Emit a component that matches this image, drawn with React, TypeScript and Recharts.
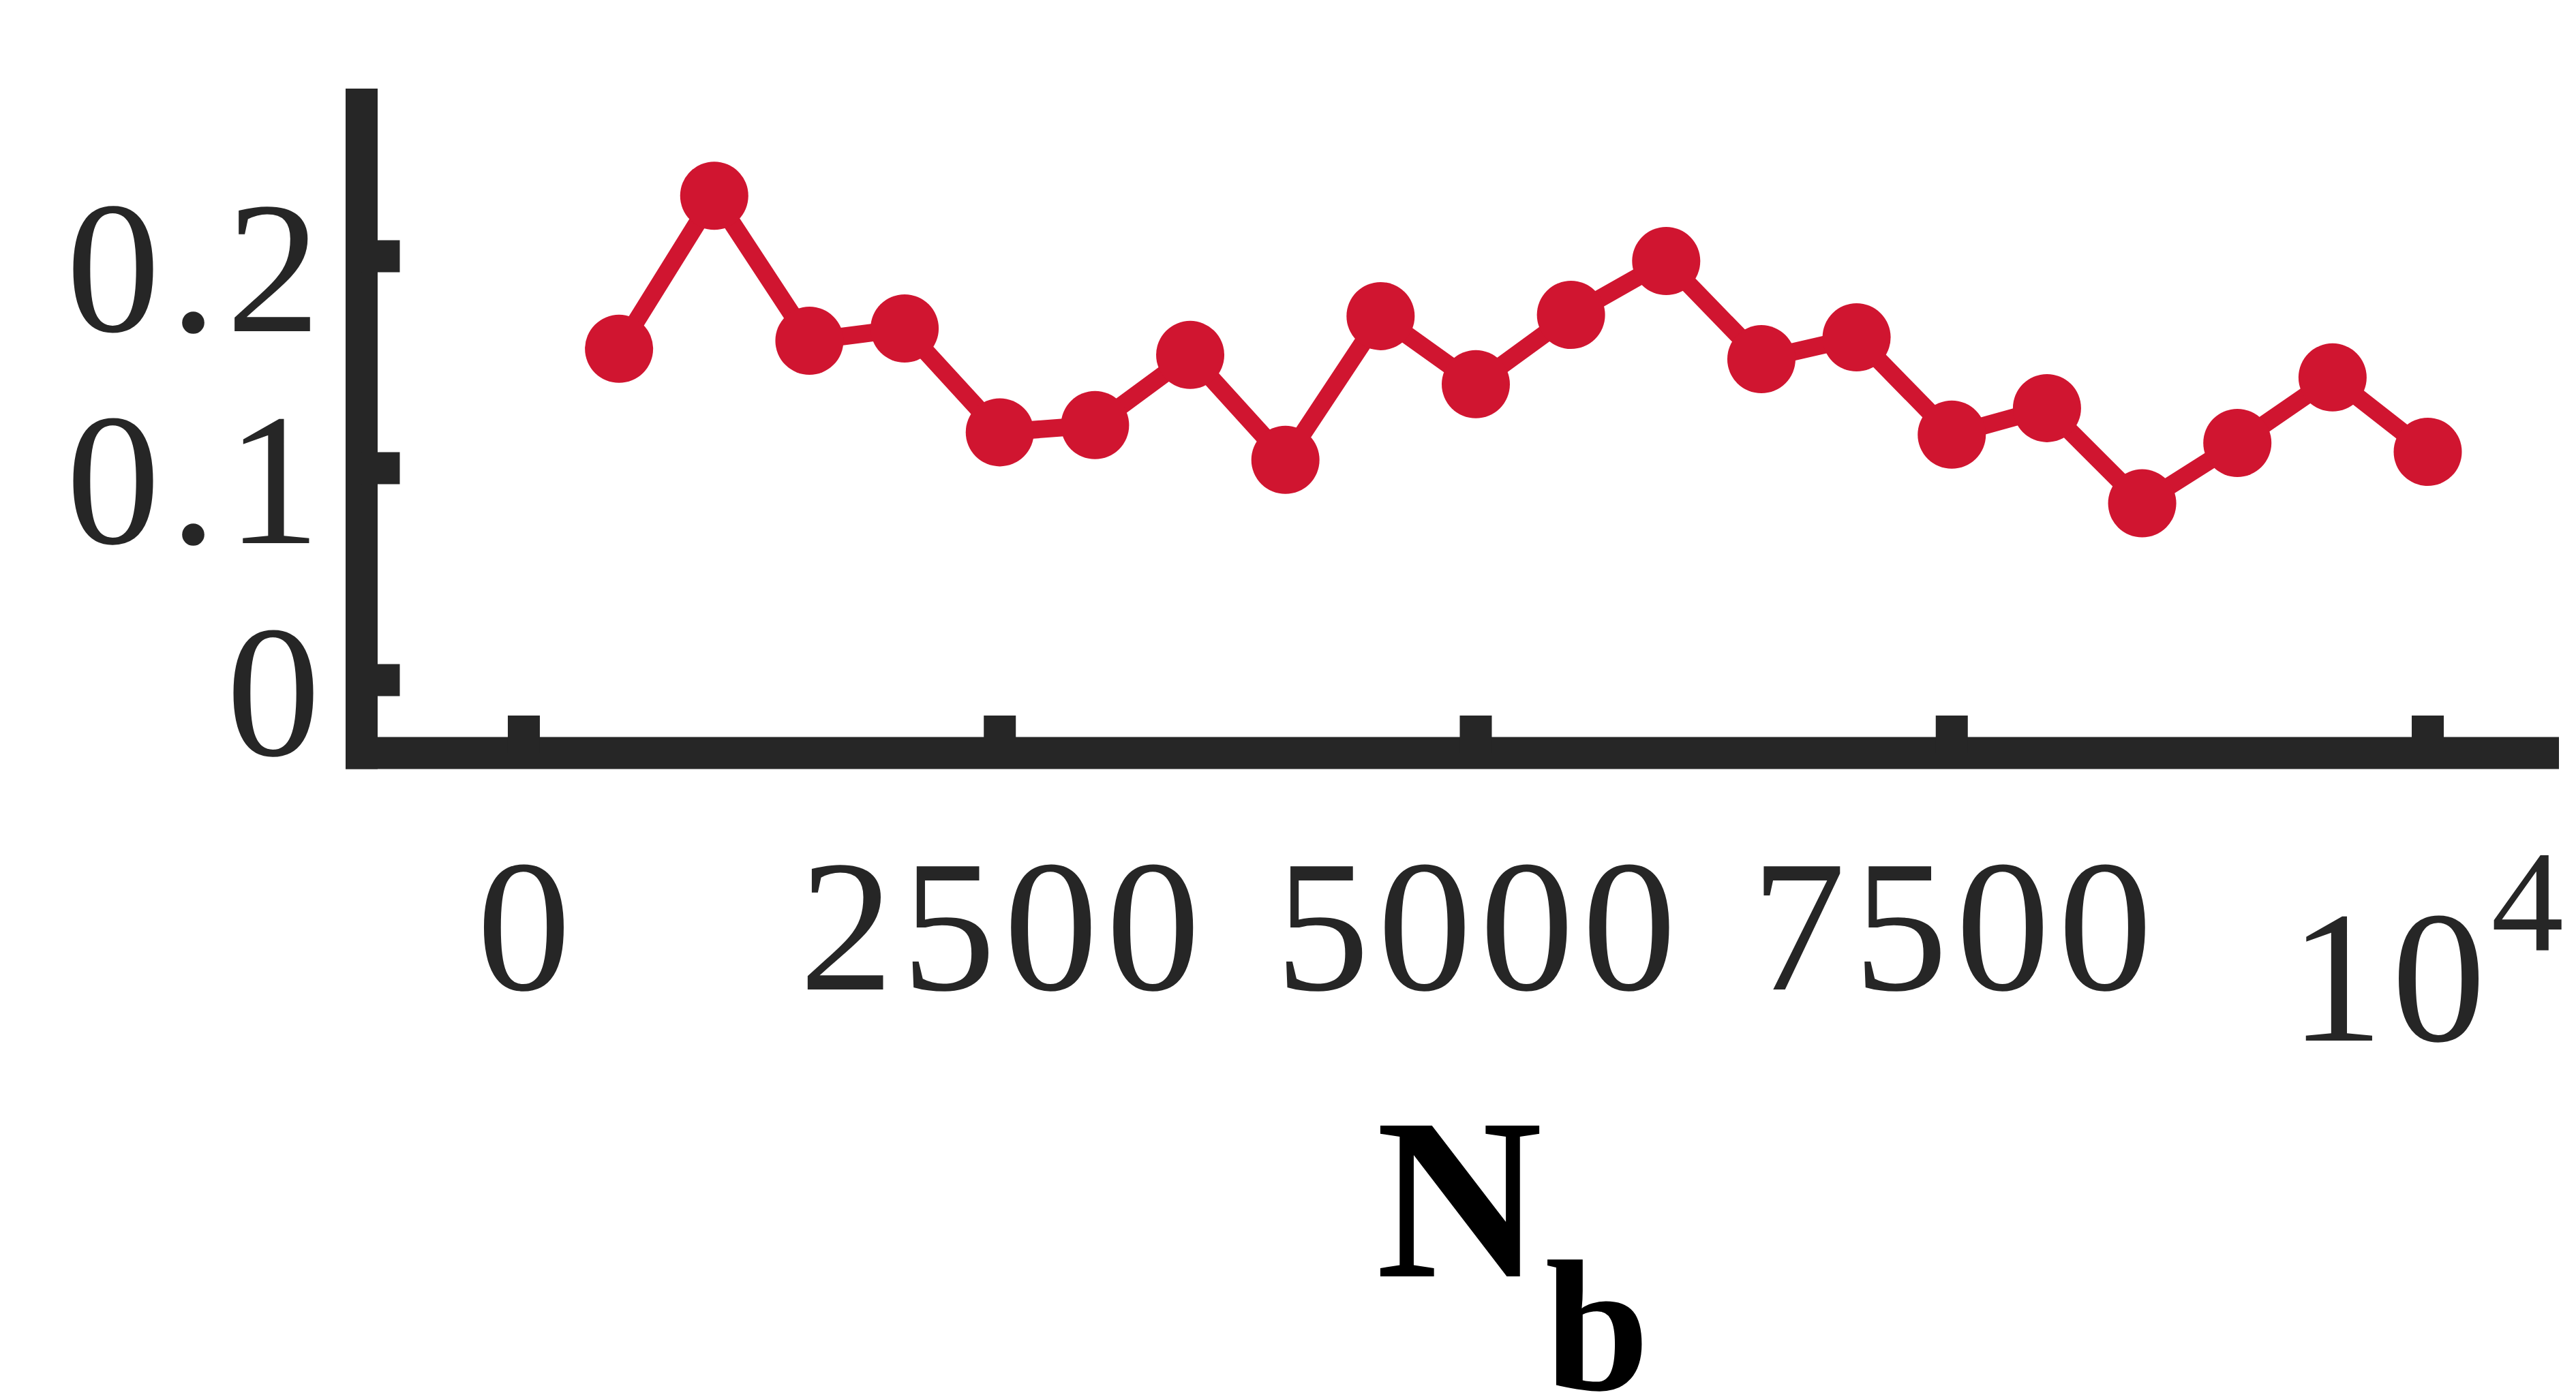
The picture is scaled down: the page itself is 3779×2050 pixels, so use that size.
import { LineChart, Line, XAxis, YAxis } from 'recharts'

// N_b sample sizes and measured values
const nb = [500, 1000, 1500, 2000, 2500, 3000, 3500, 4000, 4500, 5000, 5500, 6000, 6500, 7000, 7500, 8000, 8500, 9000, 9500, 10000]
const values = [0.1563, 0.2285, 0.1601, 0.1659, 0.1169, 0.1203, 0.1534, 0.1039, 0.1717, 0.1396, 0.1723, 0.1977, 0.1514, 0.1617, 0.1158, 0.1283, 0.0834, 0.1119, 0.1428, 0.1077]

const xTicks = [0, 2500, 5000, 7500, 10000]
const yTicks = [0, 0.1, 0.2]

const data = nb.map((n, i) => ({ nb: n, v: values[i] }))

const W = 3779
const H = 2050
const PLOT_LEFT = 530.5
const PLOT_TOP = 153.5
const PLOT_RIGHT = 3730.5
const PLOT_BOTTOM = 1105

const AXIS = '#262626'
const RED = '#d01530'
const FONT = { fontFamily: "'Liberation Serif'" }
const FS = 276
const LS_X = 12
const LS_Y = 14

function YTick({ y, payload }: any) {
  return (
    <g>
      <line x1={PLOT_LEFT} x2={PLOT_LEFT + 56} y1={y} y2={y} stroke={AXIS} strokeWidth={47} />
      <text x={470 + LS_Y} y={y + 110} textAnchor="end" fill={AXIS} style={{ ...FONT, letterSpacing: LS_Y }} fontSize={FS}>
        {String(payload.value)}
      </text>
    </g>
  )
}

function XTick({ x, payload }: any) {
  const v = payload.value
  return (
    <g>
      <line x1={x} x2={x} y1={PLOT_BOTTOM} y2={1050} stroke={AXIS} strokeWidth={47} />
      {v === 10000 ? (
        // exponent form, like the original figure
        <text x={x - 203} y={1527} textAnchor="start" fill={AXIS} style={{ ...FONT, letterSpacing: LS_X }} fontSize={FS}>
          10
          <tspan dx={-4} dy={-132} fontSize={213}>4</tspan>
        </text>
      ) : (
        <text x={x + LS_X / 2} y={1452} textAnchor="middle" fill={AXIS} style={{ ...FONT, letterSpacing: LS_X }} fontSize={FS}>
          {String(v)}
        </text>
      )}
    </g>
  )
}

function XLabel({ viewBox }: any) {
  const cx = viewBox.x + viewBox.width / 2
  return (
    <text x={cx - 112} y={1873} fill="#000" style={FONT} fontWeight="bold" fontSize={338}>
      N
      <tspan dx={4} dy={166} fontSize={275}>b</tspan>
    </text>
  )
}

export default function App() {
  return (
    <div style={{ position: 'absolute', left: 0, top: 0, width: W, height: H, background: '#fff' }}>
      <LineChart
        width={W}
        height={H}
        data={data}
        margin={{ top: PLOT_TOP, right: W - PLOT_RIGHT, left: 0, bottom: 0 }}
      >
        <XAxis
          dataKey="nb"
          type="number"
          domain={[-852, 10605]}
          ticks={xTicks}
          allowDataOverflow
          height={H - PLOT_BOTTOM}
          axisLine={{ stroke: AXIS, strokeWidth: 47, strokeLinecap: 'square' }}
          tickLine={false}
          tick={<XTick />}
          label={<XLabel />}
          interval={0}
        />
        <YAxis
          dataKey="v"
          type="number"
          domain={[-0.0344, 0.2715]}
          ticks={yTicks}
          allowDataOverflow
          width={PLOT_LEFT}
          axisLine={{ stroke: AXIS, strokeWidth: 47, strokeLinecap: 'square' }}
          tickLine={false}
          tick={<YTick />}
          interval={0}
        />
        <Line
          type="linear"
          dataKey="v"
          stroke={RED}
          strokeWidth={26}
          strokeLinejoin="round"
          dot={{ r: 50, fill: RED, stroke: RED, strokeWidth: 0 }}
          activeDot={false}
          isAnimationActive={false}
        />
      </LineChart>
    </div>
  )
}
